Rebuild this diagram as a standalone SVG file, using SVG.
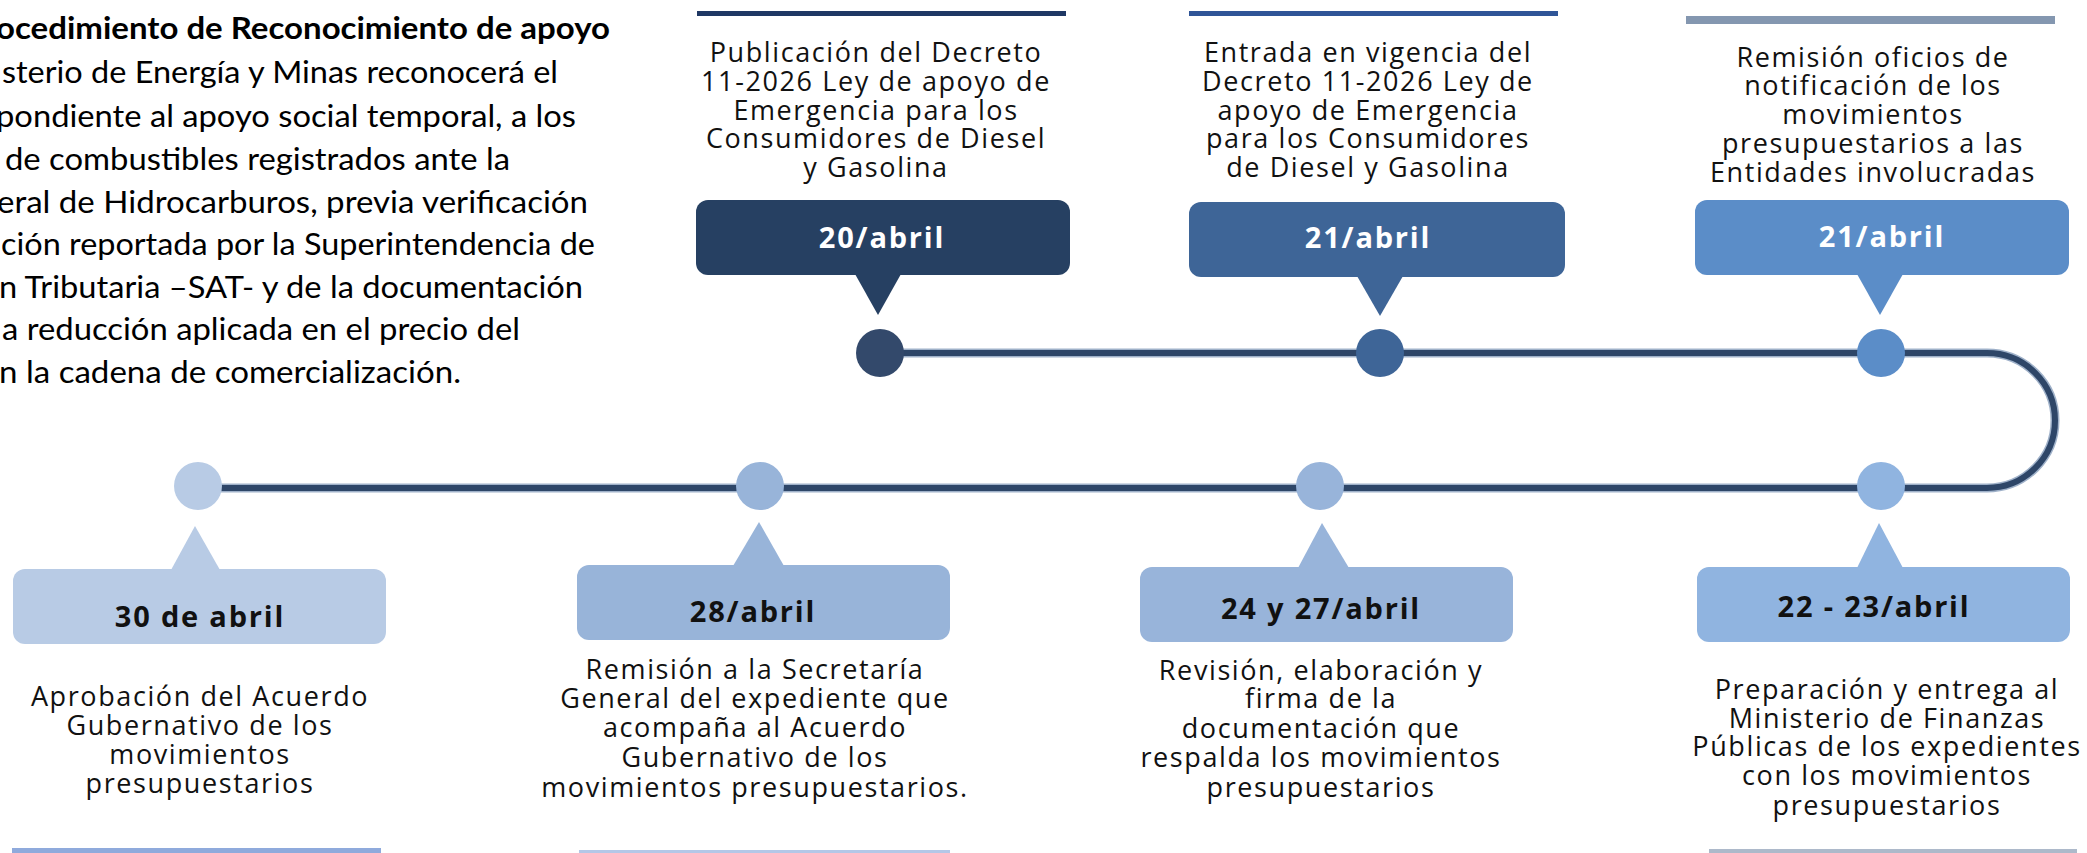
<svg xmlns="http://www.w3.org/2000/svg" width="2087" height="853" viewBox="0 0 2087 853">
<style>
.intro{font-family:Lato,"Open Sans","Liberation Sans",sans-serif;font-size:30px;fill:#000}
.introb{font-weight:bold}
.desc{font-family:"Open Sans","Noto Sans",sans-serif;font-weight:normal;font-size:27px;letter-spacing:1.6px;fill:#111111;text-anchor:middle}
.date{font-family:"Open Sans","Noto Sans",sans-serif;font-weight:bold;font-size:29px;letter-spacing:1.8px;text-anchor:middle}
.dw{fill:#ffffff}
.dk{fill:#111111}
.tl-halo{fill:none;stroke:#9fb1c9;stroke-width:9}
.tl{fill:none;stroke:#2e4668;stroke-width:6}
</style>

<g id="intro-text">
<text class="intro introb" x="-4" y="39" textLength="614" lengthAdjust="spacingAndGlyphs">ocedimiento de Reconocimiento de apoyo</text>
<text class="intro" x="2" y="83" textLength="556" lengthAdjust="spacingAndGlyphs">sterio de Energía y Minas reconocerá el</text>
<text class="intro" x="-4" y="127" textLength="580" lengthAdjust="spacingAndGlyphs">pondiente al apoyo social temporal, a los</text>
<text class="intro" x="5" y="170" textLength="505" lengthAdjust="spacingAndGlyphs">de combustibles registrados ante la</text>
<text class="intro" x="-3" y="213" textLength="591" lengthAdjust="spacingAndGlyphs">eral de Hidrocarburos, previa verificación</text>
<text class="intro" x="1" y="255" textLength="594" lengthAdjust="spacingAndGlyphs">ción reportada por la Superintendencia de</text>
<text class="intro" x="-1" y="298" textLength="584" lengthAdjust="spacingAndGlyphs">n Tributaria –SAT- y de la documentación</text>
<text class="intro" x="2" y="340" textLength="518" lengthAdjust="spacingAndGlyphs">a reducción aplicada en el precio del</text>
<text class="intro" x="-1" y="383" textLength="462" lengthAdjust="spacingAndGlyphs">n la cadena de comercialización.</text>
</g>

<g id="connectors">
<path class="tl-halo" d="M880 353 H1987 A68 67.5 0 0 1 1987 488 H198"/>
<path class="tl" d="M880 353 H1987 A68 67.5 0 0 1 1987 488 H198"/>
</g>

<g id="node-20abril">
<rect x="697" y="11" width="369" height="5" fill="#1f3864"/>
<text class="desc" x="876" y="62">Publicación del Decreto</text>
<text class="desc" x="876" y="91">11-2026 Ley de apoyo de</text>
<text class="desc" x="876" y="120">Emergencia para los</text>
<text class="desc" x="876" y="148">Consumidores de Diesel</text>
<text class="desc" x="876" y="177">y Gasolina</text>
<rect x="696" y="200" width="374" height="75" rx="12" fill="#264062"/>
<polygon points="855,274 901,274 878,315" fill="#264062"/>
<text class="date dw" x="882" y="248">20/abril</text>
<circle cx="880" cy="353" r="24" fill="#33496b"/>
</g>

<g id="node-21abril-a">
<rect x="1189" y="11" width="369" height="5" fill="#2f5597"/>
<text class="desc" x="1368" y="62">Entrada en vigencia  del</text>
<text class="desc" x="1368" y="91">Decreto 11-2026 Ley de</text>
<text class="desc" x="1368" y="120">apoyo de Emergencia</text>
<text class="desc" x="1368" y="148">para los Consumidores</text>
<text class="desc" x="1368" y="177">de Diesel y Gasolina</text>
<rect x="1189" y="202" width="376" height="75" rx="12" fill="#3e6597"/>
<polygon points="1357,276 1403,276 1380,316" fill="#3e6597"/>
<text class="date dw" x="1368" y="248">21/abril</text>
<circle cx="1380" cy="353" r="24" fill="#3e6597"/>
</g>

<g id="node-21abril-b">
<rect x="1686" y="16" width="369" height="8" fill="#8497b0"/>
<text class="desc" x="1873" y="67">Remisión oficios de</text>
<text class="desc" x="1873" y="95">notificación de los</text>
<text class="desc" x="1873" y="124">movimientos</text>
<text class="desc" x="1873" y="153">presupuestarios a las</text>
<text class="desc" x="1873" y="182">Entidades involucradas</text>
<rect x="1695" y="200" width="374" height="75" rx="12" fill="#5b8dc8"/>
<polygon points="1857,274 1903,274 1880,315" fill="#5b8dc8"/>
<text class="date dw" x="1882" y="247">21/abril</text>
<circle cx="1881" cy="353" r="24" fill="#5b8dc8"/>
</g>

<g id="node-22-23abril">
<circle cx="1881" cy="486" r="24" fill="#90b4e0"/>
<polygon points="1857,568 1903,568 1879,523" fill="#90b4e0"/>
<rect x="1697" y="567" width="373" height="75" rx="12" fill="#90b4e0"/>
<text class="date dk" x="1874" y="617">22 - 23/abril</text>
<text class="desc" x="1887" y="699">Preparación y entrega al</text>
<text class="desc" x="1887" y="728">Ministerio de Finanzas</text>
<text class="desc" x="1887" y="756">Públicas de los expedientes</text>
<text class="desc" x="1887" y="785">con los movimientos</text>
<text class="desc" x="1887" y="815">presupuestarios</text>
<rect x="1709" y="849" width="368" height="4" fill="#adb9ca"/>
</g>

<g id="node-24-27abril">
<circle cx="1320" cy="486" r="24" fill="#98b4da"/>
<polygon points="1298,568 1349,568 1322,523" fill="#98b4da"/>
<rect x="1140" y="567" width="373" height="75" rx="12" fill="#98b4da"/>
<text class="date dk" x="1321" y="619">24 y 27/abril</text>
<text class="desc" x="1321" y="680">Revisión, elaboración y</text>
<text class="desc" x="1321" y="708">firma de la</text>
<text class="desc" x="1321" y="738">documentación que</text>
<text class="desc" x="1321" y="767">respalda los movimientos</text>
<text class="desc" x="1321" y="797">presupuestarios</text>
</g>

<g id="node-28abril">
<circle cx="760" cy="486" r="24" fill="#98b4d9"/>
<polygon points="733,566 784,566 759,522" fill="#98b4d9"/>
<rect x="577" y="565" width="373" height="75" rx="12" fill="#98b4d9"/>
<text class="date dk" x="753" y="622">28/abril</text>
<text class="desc" x="755" y="679">Remisión a la Secretaría</text>
<text class="desc" x="755" y="708">General del expediente  que</text>
<text class="desc" x="755" y="737">acompaña al Acuerdo</text>
<text class="desc" x="755" y="767">Gubernativo de los</text>
<text class="desc" x="755" y="797">movimientos presupuestarios.</text>
<rect x="579" y="850" width="371" height="3" fill="#b4c7e7"/>
</g>

<g id="node-30abril">
<circle cx="198" cy="486" r="24" fill="#b8cbe5"/>
<polygon points="171,570 220,570 195,526" fill="#b8cbe5"/>
<rect x="13" y="569" width="373" height="75" rx="12" fill="#b8cbe5"/>
<text class="date dk" x="200" y="627">30 de abril</text>
<text class="desc" x="200" y="706">Aprobación del Acuerdo</text>
<text class="desc" x="200" y="735">Gubernativo de los</text>
<text class="desc" x="200" y="764">movimientos</text>
<text class="desc" x="200" y="793">presupuestarios</text>
<rect x="12" y="848" width="369" height="5" fill="#8faadc"/>
</g>
</svg>
